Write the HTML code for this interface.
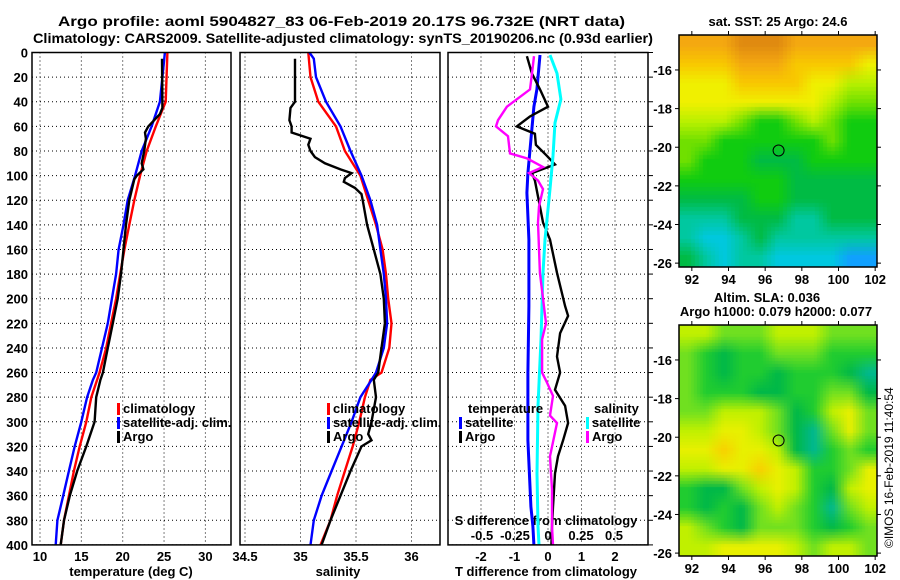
<!DOCTYPE html>
<html><head><meta charset="utf-8">
<style>
html,body{margin:0;padding:0;background:#fff;}
#wrap{position:relative;width:900px;height:580px;overflow:hidden;font-family:"Liberation Sans",sans-serif;}
canvas{position:absolute;}
svg{position:absolute;left:0;top:0;}
text{font-family:"Liberation Sans",sans-serif;font-weight:bold;font-size:13px;fill:#000;}
</style></head>
<body>
<div id="wrap">
<canvas id="sst" width="198" height="232" style="left:679px;top:35px"></canvas>
<canvas id="sla" width="198" height="231" style="left:679px;top:325px"></canvas>
<svg id="fig" width="900" height="580" xmlns="http://www.w3.org/2000/svg">
<text x="58" y="26" textLength="567" lengthAdjust="spacingAndGlyphs" style="font-size:14px">Argo profile: aoml 5904827_83 06-Feb-2019 20.17S 96.732E (NRT data)</text>
<text x="33" y="43" textLength="620" lengthAdjust="spacingAndGlyphs" style="font-size:14px">Climatology: CARS2009. Satellite-adjusted climatology: synTS_20190206.nc (0.93d earlier)</text>
<text x="778" y="26" text-anchor="middle">sat. SST: 25 Argo: 24.6</text>
<text x="767" y="302" text-anchor="middle">Altim. SLA: 0.036</text>
<text x="776" y="316" text-anchor="middle">Argo h1000: 0.079 h2000: 0.077</text>
<text transform="translate(893,548) rotate(-90)" style="font-weight:normal;font-size:12px">©IMOS 16-Feb-2019 11:40:54</text>
<g id="g"></g>
</svg>
</div>
<script>
// ---------- data ----------
const depthTicks=[0,20,40,60,80,100,120,140,160,180,200,220,240,260,280,300,320,340,360,380,400];
const tempTicks=[10,15,20,25,30];
const salTicks=[34.5,35,35.5,36];
const tdiffTicks=[-2,-1,0,1,2];
const sdiffTicks=[-0.5,-0.25,0,0.25,0.5];
const sdiffLabels=["-0.5","-0.25","0","0.25","0.5"];

const tClimDepth=[0,40,50,60,80,100,120,140,160,180,200,220,240,260,266,280,300,320,340,360,380,400];
const tClim=[25.4,25.2,24.6,24.0,22.9,22.1,21.4,20.8,20.2,19.7,19.2,18.6,18.0,17.2,16.9,16.2,15.6,14.8,14.1,13.5,12.9,12.5];
const tSatDepth=[0,40,60,80,100,120,140,160,180,200,220,240,260,266,280,300,320,340,360,380,400];
const tSat=[25.1,24.5,23.5,22.3,21.5,20.6,20.1,19.5,19.2,18.7,18.2,17.5,16.8,16.4,15.7,15.0,14.2,13.5,12.8,12.1,11.9];
const tArgoDepth=[5,45,50,60,65,70,80,90,95,100,103,120,140,160,180,200,220,240,260,266,280,300,320,340,360,380,400];
const tArgo=[24.75,24.8,24.5,23.1,22.7,22.8,22.6,22.3,22.5,21.7,21.4,20.8,20.4,20.1,19.8,19.4,18.8,18.2,17.6,17.3,16.8,16.6,15.6,14.5,13.6,12.9,12.5];

const sClimDepth=[0,20,40,60,80,100,120,140,160,180,200,220,240,260,266,280,300,320,340,360,380,400];
const sClim=[35.07,35.09,35.16,35.32,35.40,35.54,35.61,35.68,35.74,35.77,35.79,35.82,35.80,35.73,35.63,35.58,35.53,35.47,35.40,35.33,35.27,35.18];
const sSatDepth=[0,5,20,40,60,80,100,120,140,160,180,200,220,240,260,266,280,300,320,340,360,380,400];
const sSat=[35.08,35.12,35.14,35.23,35.36,35.45,35.55,35.63,35.69,35.72,35.75,35.77,35.78,35.75,35.68,35.64,35.54,35.46,35.37,35.28,35.19,35.12,35.09];
const sArgoDepth=[5,40,45,55,60,65,70,75,80,85,90,95,98,102,105,110,115,120,140,160,180,200,220,240,260,266,280,300,310,315,320,340,360,380,400];
const sArgo=[34.95,34.95,34.91,34.90,34.92,34.92,35.09,35.07,35.09,35.13,35.22,35.36,35.46,35.40,35.39,35.49,35.55,35.56,35.60,35.66,35.72,35.75,35.76,35.73,35.70,35.66,35.68,35.64,35.61,35.64,35.55,35.45,35.36,35.27,35.19];

const dtSatDepth=[2,30,44,71,98,114,152,206,260,315,369,385,400];
const dtSat=[-0.24,-0.33,-0.42,-0.51,-0.60,-0.63,-0.57,-0.57,-0.60,-0.60,-0.51,-0.45,-0.42];
const dtArgoDepth=[3,17,30,44,52,60,66,75,84,91,98,104,117,138,152,179,206,214,228,247,260,274,287,301,315,328,342,369,385,400];
const dtArgo=[-0.63,-0.48,-0.24,0,-0.54,-0.93,-0.39,-0.36,-0.03,0.21,-0.48,-0.39,-0.30,-0.15,0.06,0.27,0.51,0.60,0.36,0.27,0.36,0.21,0.51,0.60,0.45,0.30,0.21,0.15,0.12,0.10];
const dsSatDepth=[2,17,38,57,84,111,152,179,233,287,342,385,400];
const dsSat=[0.015,0.068,0.098,0.053,0.038,0.015,-0.023,-0.038,-0.053,-0.076,-0.083,-0.076,-0.068];
const dsArgoDepth=[3,17,30,44,55,60,68,82,86,93,98,104,111,125,138,179,220,233,260,268,279,295,301,328,355,385,400];
const dsArgo=[-0.106,-0.121,-0.136,-0.311,-0.379,-0.394,-0.303,-0.288,-0.159,-0.038,-0.144,-0.076,-0.038,-0.068,-0.076,-0.061,-0.015,-0.045,-0.045,-0.008,0.038,0.015,0.068,0.015,0.030,0.030,0.038];

const lonTicks=[92,94,96,98,100,102];
const latTicks=[-16,-18,-20,-22,-24,-26];
const argoLon=96.732, argoLat=-20.17;

const sstColors=['#e08a10','#f4a810','#f8c800','#f0f000','#b8f000','#70e000','#10cc10','#00bb44','#00c8a0','#00c8e0','#10a0ff'];
const sstGrid=[
[1,1,1,0,0,0,1,1,1,1,1],
[2,2,2,1,1,1,2,2,2,2,3],
[3,3,3,2,2,2,2,3,3,4,4],
[3,3,3,3,3,3,3,3,4,5,5],
[4,4,4,5,6,6,5,4,5,6,6],
[5,5,6,6,6,6,6,6,5,6,6],
[5,6,6,6,7,7,7,6,6,6,6],
[6,6,6,6,6,6,7,7,7,7,7],
[7,7,7,7,6,6,7,7,7,7,7],
[8,8,8,7,7,7,8,8,7,7,7],
[8,9,9,8,7,8,8,8,8,8,8],
[7,8,9,8,8,9,9,9,9,10,10]];
const slaColors=['#f8d000','#e8f000','#c0f000','#70e020','#20cc30','#00b848','#00b890'];
const slaGrid=[
[2,2,3,3,3,2,2,2,3,3,3],
[3,4,5,4,4,3,3,3,4,4,4],
[3,4,5,4,4,5,4,4,4,5,6],
[3,4,4,4,5,5,4,4,3,3,5],
[3,3,2,2,2,3,5,4,2,1,3],
[2,2,1,1,2,3,5,6,3,1,3],
[1,1,0,1,1,2,5,6,4,3,4],
[2,2,1,1,0,1,2,4,4,3,1],
[4,5,5,3,2,1,2,4,5,2,1],
[4,5,4,5,3,2,3,4,6,3,2],
[2,3,4,5,3,3,3,4,5,4,3],
[2,2,1,1,1,1,2,3,2,2,3]];

// ---------- scales ----------
const yD=d=>52.5+d*1.231;
const xT=t=>40+(t-10)*8.27;
const xS=s=>245+(s-34.5)*111;
const xDT=v=>548+v*33.5;
const xDS=v=>548+v*132;
const NS='http://www.w3.org/2000/svg';
const G=document.getElementById('g');
function mk(tag,attrs,parent){const e=document.createElementNS(NS,tag);for(const k in attrs)e.setAttribute(k,attrs[k]);(parent||G).appendChild(e);return e;}
function txt(x,y,s,anchor){const e=mk('text',{x:x,y:y,'text-anchor':anchor||'start'});e.textContent=s;return e;}

const panels=[{x0:32,x1:231,name:'temperature'},{x0:240,x1:440,name:'salinity'},{x0:448,x1:648,name:'difference'}];
const Y0=yD(0),Y1=yD(400);
panels.forEach(p=>{
  depthTicks.forEach(d=>{
    const l=mk('line',{x1:p.x0,x2:p.x1,y1:yD(d),y2:yD(d),stroke:'#000','stroke-width':1,'stroke-dasharray':'1,3'});
    
    
  });
});
function vgrid(xs,name){xs.forEach(x=>{const l=mk('line',{x1:x,x2:x,y1:Y0,y2:Y1,stroke:'#000','stroke-width':1,'stroke-dasharray':'1,3'});
  
  });}
vgrid(tempTicks.map(xT),'temp-vgrid');
vgrid(salTicks.map(xS),'sal-vgrid');
vgrid(tdiffTicks.map(xDT),'diff-vgrid');

depthTicks.forEach(d=>{const t=txt(28,yD(d)+5,String(d),'end');
  
  });
depthTicks.forEach(d=>{mk('line',{x1:648,x2:653,y1:yD(d),y2:yD(d),stroke:'#000','stroke-width':1});});
tempTicks.forEach(v=>{const t=txt(xT(v),561,String(v),'middle');
  
  });
salTicks.forEach(v=>{const t=txt(xS(v),561,String(v),'middle');
  
  });
tdiffTicks.forEach(v=>{const t=txt(xDT(v),561,String(v),'middle');
  
  });
sdiffTicks.forEach((v,i)=>{const t=txt(xDS(v),540,sdiffLabels[i],'middle');
  
  });
let t;
t=txt(131,576,'temperature (deg C)','middle');


t=txt(338,576,'salinity','middle');


t=txt(546,576,'T difference from climatology','middle');


t=txt(546,525,'S difference from climatology','middle');



function line(ds,vs,xf,color,name,w){
  const pts=ds.map((d,i)=>xf(vs[i]).toFixed(1)+','+yD(d).toFixed(1)).join(' ');
  const l=mk('polyline',{points:pts,fill:'none',stroke:color,'stroke-width':w||2.4,'stroke-linejoin':'miter'});
  
  
}
line(tClimDepth,tClim,xT,'#ff0000','temp-climatology-line');
line(tSatDepth,tSat,xT,'#0000ff','temp-satellite-line');
line(tArgoDepth,tArgo,xT,'#000000','temp-argo-line');
line(sClimDepth,sClim,xS,'#ff0000','sal-climatology-line');
line(sSatDepth,sSat,xS,'#0000ff','sal-satellite-line');
line(sArgoDepth,sArgo,xS,'#000000','sal-argo-line');
line(dtSatDepth,dtSat,xDT,'#0000ff','tdiff-satellite-line',3);
line(dtArgoDepth,dtArgo,xDT,'#000000','tdiff-argo-line');
line(dsSatDepth,dsSat,xDS,'#00ffff','sdiff-satellite-line',3);
line(dsArgoDepth,dsArgo,xDS,'#ff00ff','sdiff-argo-line');

panels.forEach(p=>{const r=mk('rect',{x:p.x0,y:Y0,width:p.x1-p.x0,height:Y1-Y0,fill:'none',stroke:'#000','stroke-width':1.5});
  
  });

function leg(x,y,color,label,name){
  mk('rect',{x:x,y:y-10,width:3,height:12,fill:color});
  const tt=txt(x+6,y,label);
  
  
}
leg(117,413,'#ff0000','climatology','legend-temp-climatology');
leg(117,427,'#0000ff','satellite-adj. clim.','legend-temp-satellite');
leg(117,441,'#000000','Argo','legend-temp-argo');
leg(327,413,'#ff0000','climatology','legend-sal-climatology');
leg(327,427,'#0000ff','satellite-adj. clim.','legend-sal-satellite');
leg(327,441,'#000000','Argo','legend-sal-argo');
t=txt(468,413,'temperature');


leg(459,427,'#0000ff','satellite','legend-tdiff-satellite');
leg(459,441,'#000000','Argo','legend-tdiff-argo');
t=txt(594,413,'salinity');


leg(586,427,'#00ffff','satellite','legend-sdiff-satellite');
leg(586,441,'#ff00ff','Argo','legend-sdiff-argo');

// ---------- maps ----------
const LON0=91.3,LON1=102.1;
function drawMap(id,grid,cols,top,bottom,step,latTop,latBot,name){
  const cv=document.getElementById(id),ctx=cv.getContext('2d');
  const W=cv.width,H=cv.height,R=grid.length,C=grid[0].length;
  const rgb=cols.map(c=>[parseInt(c.substr(1,2),16),parseInt(c.substr(3,2),16),parseInt(c.substr(5,2),16)]);
  for(let y=0;y<H;y+=step)for(let x=0;x<W;x+=step){
    const fx=Math.max(0,Math.min(C-1,(x+step/2)/W*C-0.5)),fy=Math.max(0,Math.min(R-1,(y+step/2)/H*R-0.5));
    const x0=Math.floor(fx),y0=Math.floor(fy),x1=Math.min(C-1,x0+1),y1=Math.min(R-1,y0+1),ax=fx-x0,ay=fy-y0;
    const c=[0,1,2].map(k=>{
      const a=rgb[grid[y0][x0]][k]*(1-ax)+rgb[grid[y0][x1]][k]*ax;
      const b=rgb[grid[y1][x0]][k]*(1-ax)+rgb[grid[y1][x1]][k]*ax;
      return Math.round(a*(1-ay)+b*ay);});
    ctx.fillStyle='rgb('+c.join(',')+')';ctx.fillRect(x,y,step,step);
  }
  const mx=lon=>679+(lon-LON0)/(LON1-LON0)*198;
  const my=lat=>top+(latTop-lat)/(latTop-latBot)*(bottom-top);
  const fr=mk('rect',{x:679,y:top,width:198,height:bottom-top,fill:'none',stroke:'#000','stroke-width':1.5});
  
  
  lonTicks.forEach(l=>{mk('line',{x1:mx(l),x2:mx(l),y1:top,y2:top-4,stroke:'#000'});mk('line',{x1:mx(l),x2:mx(l),y1:bottom,y2:bottom+4,stroke:'#000'});
    const tt=txt(mx(l),bottom+17,String(l),'middle');
    
    });
  latTicks.forEach(l=>{mk('line',{x1:675,x2:679,y1:my(l),y2:my(l),stroke:'#000'});mk('line',{x1:877,x2:881,y1:my(l),y2:my(l),stroke:'#000'});
    const tt=txt(672,my(l)+5,String(l),'end');
    
    });
  const c=mk('circle',{cx:mx(argoLon),cy:my(argoLat),r:5.5,fill:'none',stroke:'#000','stroke-width':1});
  
  
}
drawMap('sst',sstGrid,sstColors,35,267,4,-14.19,-26.2,'sst-map');
drawMap('sla',slaGrid,slaColors,325,556,3,-14.19,-26.15,'sla-map');
</script>
</body></html>
